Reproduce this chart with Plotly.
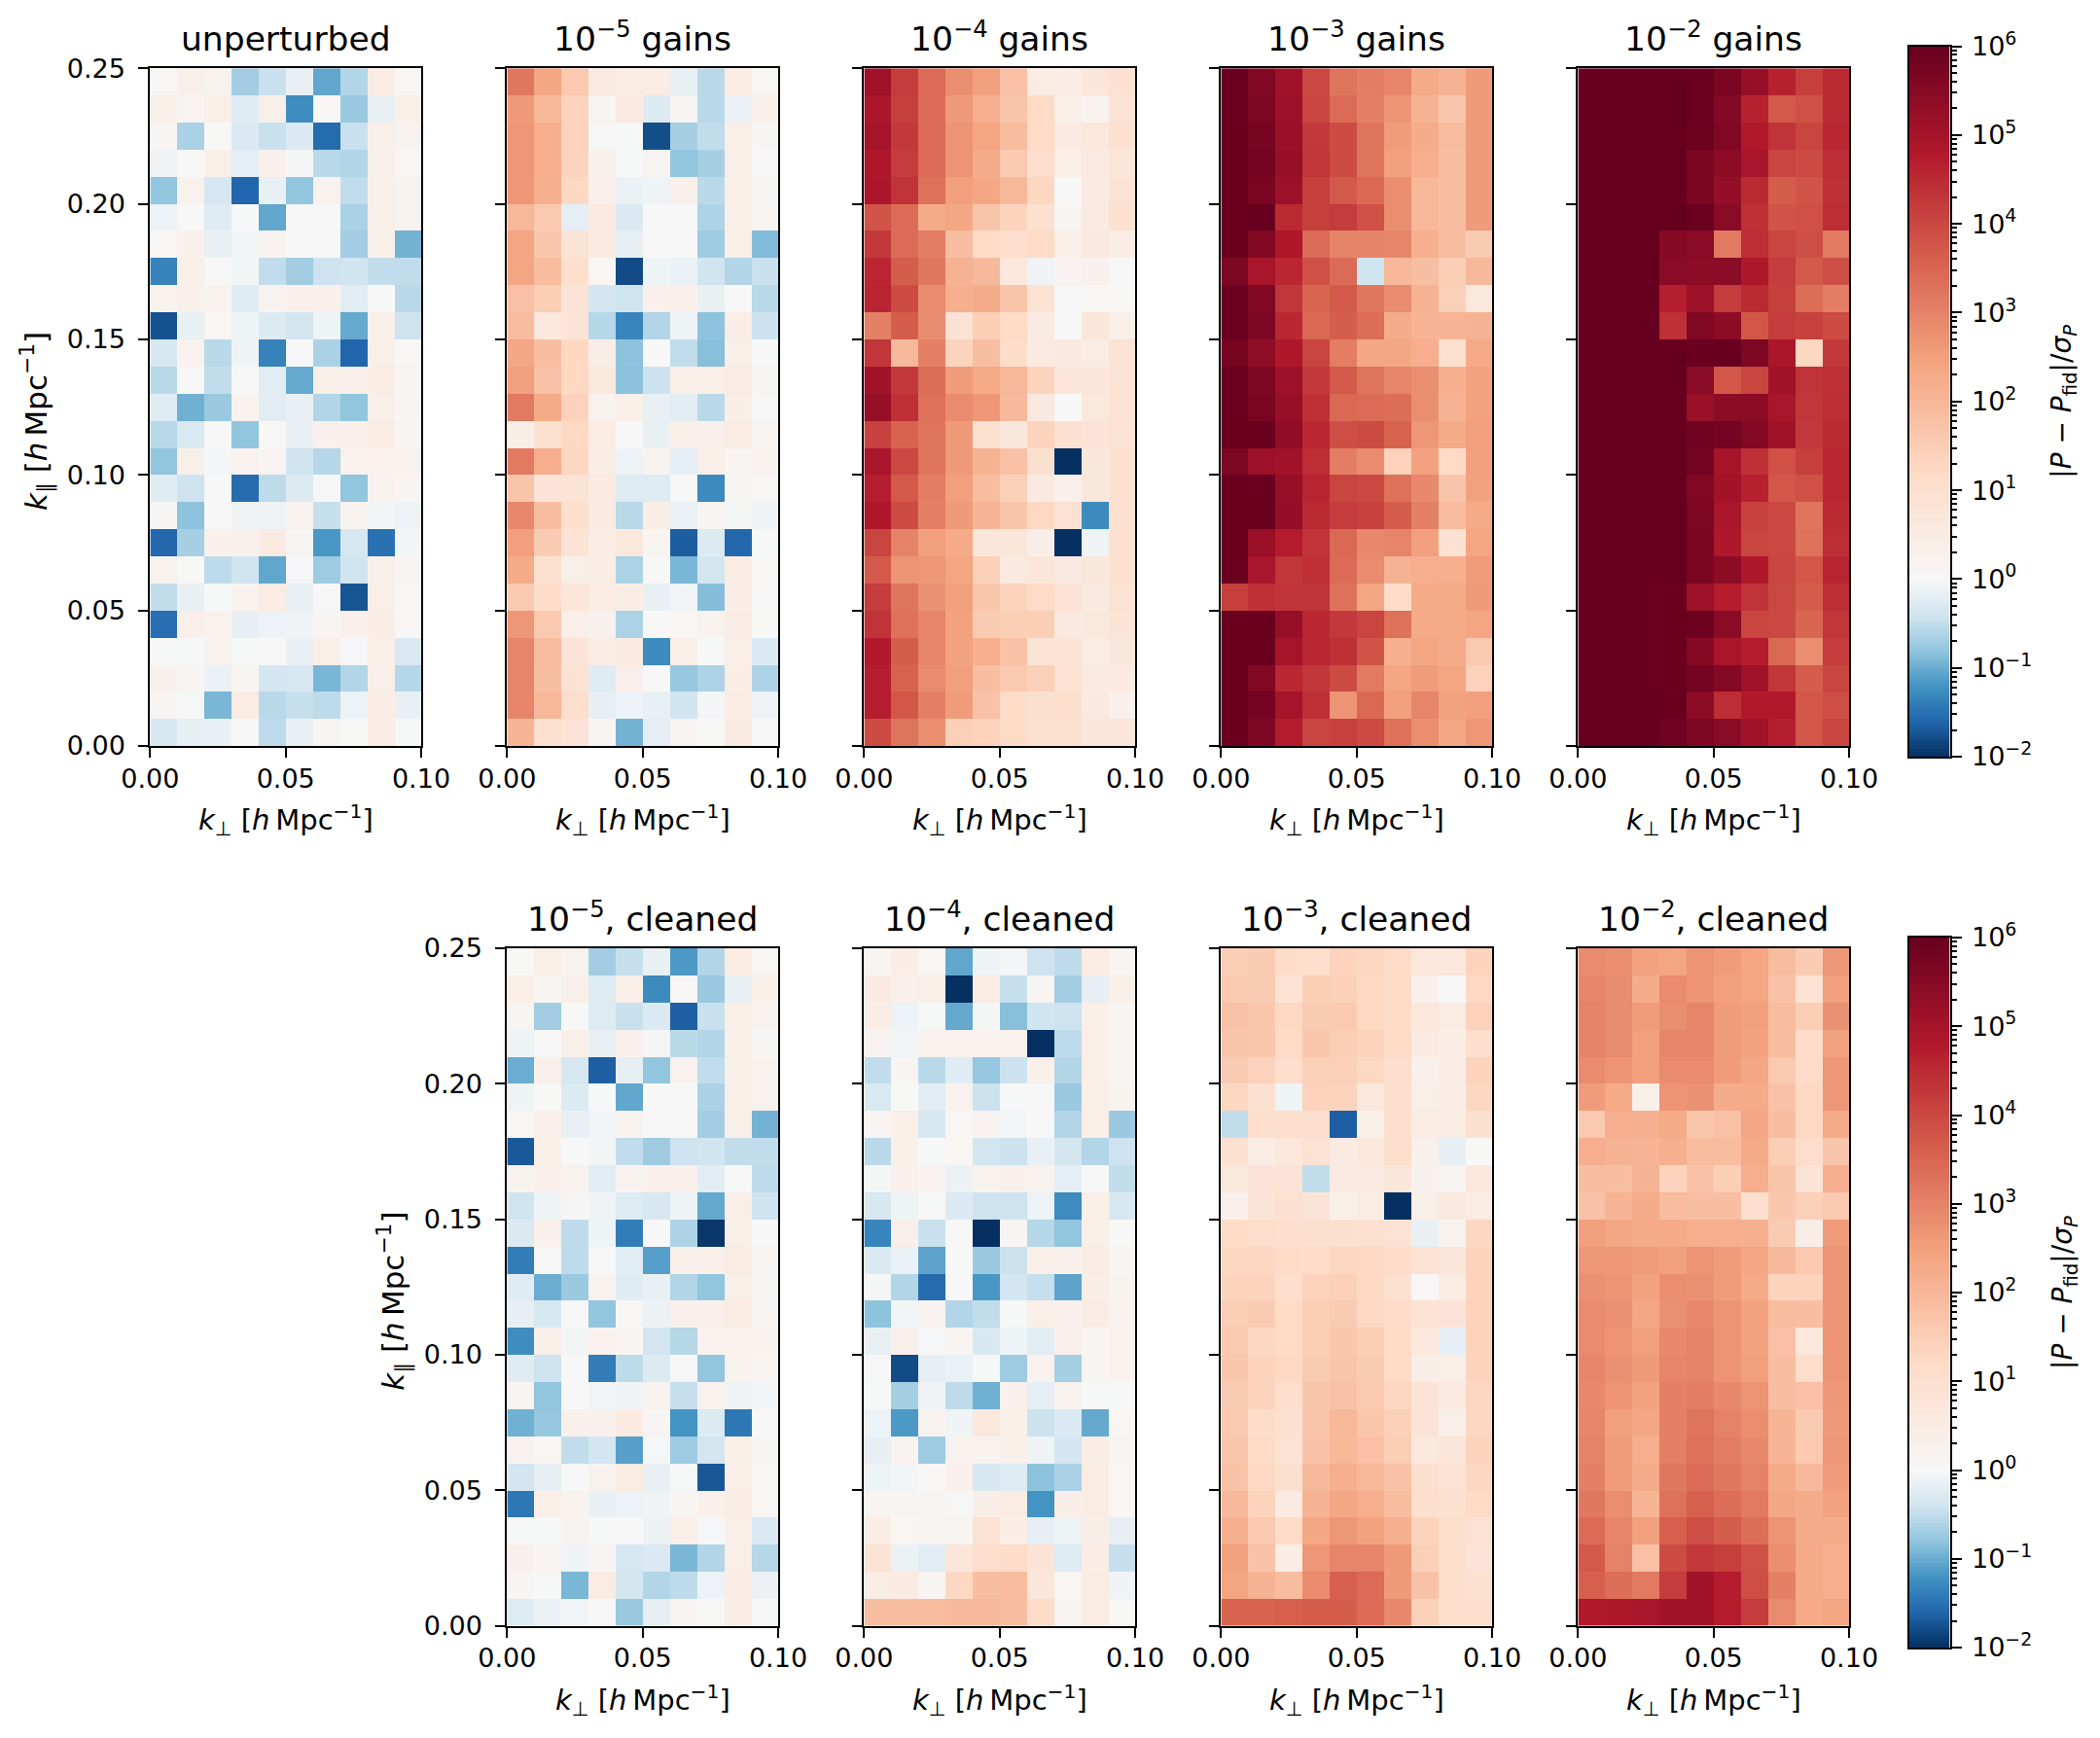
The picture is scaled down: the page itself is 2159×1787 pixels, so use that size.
import numpy as np
import plotly.graph_objects as go

# log10(|P-Pfid|/sigma); each list runs from the top row (k_par=0.25) to the bottom row, left to right
unperturbed = [
[.05,.35,.2,-.7,-.45,-.15,-1.05,-.6,.5,.05],
[.35,.15,.35,-.25,.35,-1.25,.05,-.75,-.15,.35],
[.15,-.65,.02,-.3,-.45,-.3,-1.55,-.45,.35,.2],
[-.08,0,.35,-.2,.3,-.03,-.55,-.6,.35,.1],
[-.8,.25,-.35,-1.6,-.15,-.8,.25,-.5,.35,.2],
[-.12,0,-.25,-.01,-1.05,0,0,-.65,.35,.2],
[.05,.3,-.15,-.05,.2,0,0,-.7,.35,-.95],
[-1.35,.35,0,-.05,-.5,-.7,-.42,-.4,-.5,-.5],
[.2,.3,.2,-.25,.2,.3,.3,-.22,0,-.55],
[-1.75,-.15,.1,-.1,-.28,-.38,-.1,-1.02,.38,-.42],
[-.33,.25,-.55,-.1,-1.35,0,-.65,-1.6,.35,.05],
[-.55,.02,-.5,0,-.22,-1.02,.35,.3,.5,.12],
[-.25,-.97,-.75,.2,-.22,-.15,-.6,-.8,.35,.08],
[-.55,-.32,.03,-.8,.05,-.15,.3,.3,.5,.15],
[-.8,.35,-.04,.25,.15,-.4,-.58,.25,.25,.2],
[-.25,-.42,0,-1.55,-.52,-.28,.03,-.8,.2,.15],
[.08,-.82,0,-.08,-.1,.22,-.47,.2,-.05,-.12],
[-1.58,-.67,.3,.28,.55,.08,-1.17,-.35,-1.5,-.05],
[.2,.02,-.52,-.4,-1.05,-.02,-.72,-.4,.35,.08],
[-.5,-.15,-.01,.2,.5,-.15,0,-1.73,.38,.05],
[-1.52,.38,.2,-.17,-.12,-.08,.12,.3,.45,.05],
[-.01,-.01,.2,-.01,0,-.15,.35,-.02,.38,-.3],
[.28,.13,-.13,.13,-.37,-.35,-.92,-.6,.38,-.57],
[.12,-.01,-.92,.5,-.55,-.47,-.53,-.12,.45,-.15],
[-.33,-.18,-.15,0,-.53,-.15,.15,.02,.45,-.01],
]
gains_1e5 = [
[3.2,2.4,1.6,.55,.5,.5,-.15,-.55,.5,.05],
[2.6,2.0,1.35,.08,.55,-.28,.12,-.55,-.13,.3],
[2.65,2.2,1.4,.03,-.01,-1.78,-.67,-.5,.38,.08],
[2.65,2.2,1.35,.28,-.01,.13,-.8,-.67,.38,.03],
[2.65,2.15,1.25,.3,-.13,-.1,.3,-.55,.38,.08],
[2.0,1.6,-.2,.55,-.3,0,0,-.63,.38,.13],
[2.4,1.65,.85,.55,-.17,0,0,-.72,.38,-.88],
[2.4,1.9,1.05,.1,-1.8,-.1,-.13,-.4,-.6,-.45],
[1.8,1.5,.85,-.37,-.4,.3,.3,-.15,0,-.55],
[1.9,.7,.85,-.58,-1.33,-.6,-.1,-.82,.42,-.43],
[2.35,1.85,1.25,.4,-.82,0,-.5,-.85,.38,-.01],
[2.5,1.75,1.25,.65,-.83,-.43,.38,.38,.48,.08],
[3.15,2.3,1.4,.25,.35,-.15,-.23,-.55,.4,.03],
[.4,.95,1.25,.5,0,-.15,.35,.3,.5,.12],
[3.15,2.2,1.3,.45,-.12,.2,-.2,.35,.15,.2],
[1.7,.8,.85,.55,-.27,-.27,0,-1.28,.08,.05],
[2.9,1.85,1.05,.55,-.55,.45,-.13,.12,-.03,-.08],
[2.5,1.55,.85,.42,.65,.13,-1.67,-.28,-1.58,-.01],
[2.3,.95,.35,.42,-.64,-.01,-.92,-.38,.42,.05],
[1.6,1.15,.75,.5,.42,-.15,-.07,-.86,.42,.03],
[2.65,1.6,.38,.28,-.64,0,.1,.2,.48,.02],
[2.95,1.9,.8,.42,.55,-1.28,.38,-.01,.38,-.3],
[2.95,1.85,.9,-.25,.33,0,-.77,-.62,.42,-.62],
[2.95,2.0,1.1,-.17,-.12,-.15,-.4,-.04,.5,-.12],
[2.05,.95,.8,.12,-.95,-.2,.13,.02,.52,0],
]
gains_1e4 = [
[5.1,4.2,3.4,2.8,2.5,1.8,.5,.42,.75,.95],
[4.9,4.15,3.4,2.6,2.2,1.7,1.2,.38,.2,.9],
[5.0,4.25,3.4,2.7,2.4,1.9,1.2,.55,.7,.95],
[4.85,4.2,3.4,2.7,2.25,1.6,1.1,.38,.55,.75],
[4.9,4.35,3.3,2.5,2.35,2.0,1.3,0,.55,.92],
[3.8,3.4,2.3,2.35,1.7,1.35,.95,.12,.55,.95],
[4.25,3.4,3.1,1.85,1.2,1.1,1.2,.35,.62,.48],
[4.55,3.65,3.2,2.1,1.95,.7,-.08,.18,.28,.03],
[4.6,3.95,2.85,2.15,2.25,1.7,.9,.03,.1,.05],
[3.05,3.65,2.85,.88,1.5,1.2,.55,0,.72,.38],
[4.3,1.95,3.05,1.35,1.85,1.12,.55,.62,.5,.88],
[5.05,4.25,3.35,2.55,2.3,2.0,1.35,.75,.72,.88],
[5.25,4.4,3.3,2.85,2.65,1.95,.58,0,.65,.9],
[4.1,3.55,3.25,2.6,.97,.68,1.35,.95,.8,.9],
[4.95,4.0,3.25,2.6,2.1,1.8,1.0,-2,.68,.95],
[4.7,3.7,3.1,2.5,1.85,1.45,.58,.3,.68,.95],
[4.85,3.95,3.05,2.6,2.05,1.7,1.25,.9,-1.28,.95],
[4.05,3.0,2.5,2.3,.72,.72,.4,-2,-.1,.95],
[3.7,2.7,2.65,2.4,1.45,.6,.72,.58,.68,.95],
[4.2,3.25,2.75,2.5,1.65,1.35,1.2,.88,.62,.92],
[4.35,3.3,2.95,2.45,1.55,1.5,1.5,.6,.65,.85],
[4.8,3.65,2.95,2.45,2.2,1.75,.82,.85,.5,.68],
[4.7,3.55,2.85,2.5,1.85,1.6,1.45,.9,.55,.55],
[4.7,3.75,3.05,2.55,1.75,1.2,1.0,1.05,.6,.3],
[3.95,3.25,2.8,1.45,1.4,1.2,.95,.95,.72,.72],
]
gains_1e3 = [
[5.95,5.6,5.1,4.0,3.25,3.1,2.95,2.3,2.1,2.6],
[5.95,5.65,5.15,4.05,3.4,3.05,2.7,2.1,1.65,2.6],
[5.97,5.75,5.2,4.25,3.95,3.25,2.55,2.25,1.9,2.6],
[5.97,5.8,5.25,4.3,3.95,3.25,2.5,2.2,1.85,2.6],
[5.97,5.7,5.15,4.15,3.7,3.45,2.8,2.0,1.85,2.6],
[5.97,6.0,4.5,4.15,4.2,3.85,2.8,2.0,1.85,2.6],
[5.97,5.6,4.85,3.4,3.0,3.0,2.95,2.15,1.85,1.55],
[5.65,4.95,4.55,3.85,3.4,-.4,2.0,1.85,1.5,1.95],
[5.93,5.6,4.3,3.5,3.7,3.2,2.85,2.1,1.45,.65],
[5.95,5.65,4.55,3.45,3.65,3.35,2.25,2.05,2.05,2.1],
[5.75,5.35,4.85,4.05,3.1,2.35,2.35,2.2,.97,2.3],
[5.93,5.65,5.15,4.25,3.7,3.25,2.95,2.8,2.15,2.45],
[5.95,5.7,5.25,4.4,3.45,3.4,3.35,2.8,2.1,2.45],
[5.97,5.97,5.35,4.55,3.9,3.95,3.55,2.65,2.3,2.5],
[5.65,5.15,5.05,4.45,3.1,2.85,1.4,2.45,1.2,2.5],
[5.97,5.93,5.25,4.6,4.05,4.0,3.3,2.9,1.7,2.45],
[5.97,5.97,5.3,4.5,4.2,4.1,3.65,3.05,1.9,2.3],
[5.97,5.2,4.75,4.35,3.45,2.9,2.95,2.5,.92,2.4],
[5.95,4.95,4.3,4.4,3.4,2.85,2.1,2.2,2.15,2.55],
[4.15,4.4,4.35,4.35,3.3,2.4,1.12,2.3,2.3,2.6],
[5.97,5.97,5.25,4.55,4.25,4.05,3.3,2.3,2.3,2.4],
[5.97,5.97,5.0,4.55,4.4,3.8,2.15,2.4,2.25,1.6],
[5.97,5.6,4.55,4.3,3.95,3.15,2.4,2.55,2.4,1.4],
[5.97,5.8,5.0,4.4,2.7,3.45,2.5,2.95,2.45,2.5],
[5.97,5.65,4.75,4.05,4.1,3.95,3.3,2.8,2.35,2.65],
]
gains_1e2 = [
[6,6,6,6,5.95,5.7,5.25,4.65,4.15,4.5],
[6,6,6,6,5.95,5.55,4.65,3.7,3.85,4.5],
[6,6,6,6,5.9,5.6,4.8,4.35,4.05,4.55],
[6,6,6,6,5.7,5.4,4.95,4.05,3.95,4.45],
[6,6,6,6,5.7,5.3,4.5,3.65,3.8,4.4],
[6,6,6,6,5.95,5.45,4.4,3.8,3.85,4.45],
[6,6,6,5.5,5.45,3.15,4.45,4.05,3.9,3.15],
[6,6,6,5.45,5.4,5.45,4.85,4.2,3.7,3.9],
[6,6,6,4.7,5.15,4.2,4.5,4.15,3.35,3.1],
[6,6,6,4.4,5.6,5.4,3.75,4.2,4.1,3.95],
[6,6,6,6,5.97,6,5.65,4.9,1.3,4.25],
[6,6,6,6,5.45,3.75,4.05,5.1,4.35,4.4],
[6,6,6,6,5.2,5.4,5.4,4.95,4.3,4.45],
[6,6,6,6,5.85,5.8,5.55,5.1,4.25,4.5],
[6,6,6,6,5.8,5.0,4.4,3.85,4.15,4.55],
[6,6,6,6,5.6,5.05,4.65,3.75,3.85,4.55],
[6,6,6,6,5.65,4.95,4.1,4.0,3.25,4.5],
[6,6,6,6,5.7,4.85,4.05,4.0,3.3,4.45],
[6,6,6,6,5.7,5.4,4.85,4.05,3.75,4.6],
[6,6,6,5.97,5.15,4.75,4.35,4.0,3.65,4.45],
[6,6,6,5.97,5.9,5.45,4.05,4.0,3.5,4.3],
[6,6,6,5.97,5.5,4.95,4.75,3.45,2.8,4.2],
[6,6,6,5.97,5.8,5.55,5.1,4.3,3.65,4.05],
[6,6,6,6,5.4,4.45,4.8,4.8,3.75,3.9],
[6,6,6,5.85,5.65,5.45,5.1,4.7,3.75,4.05],
]
cleaned_1e5 = [
[.02,.35,.2,-.7,-.47,-.15,-1.15,-.6,.5,.05],
[.38,.12,.35,-.27,.35,-1.28,.05,-.75,-.15,.35],
[.15,-.7,.02,-.27,-.45,-.3,-1.65,-.45,.35,.2],
[-.1,.03,.35,-.15,.3,-.03,-.55,-.6,.35,.08],
[-1.0,.33,-.35,-1.65,-.17,-.8,.25,-.5,.35,.2],
[-.1,.02,-.28,-.01,-1.05,0,0,-.65,.35,.2],
[.05,.3,-.15,-.05,.2,0,0,-.7,.35,-.95],
[-1.7,.35,0,-.05,-.5,-.72,-.42,-.4,-.5,-.5],
[.2,.3,.2,-.22,.2,.3,.3,-.22,0,-.52],
[-.4,-.1,.08,-.08,-.27,-.33,-.1,-1.03,.38,-.42],
[-.3,.3,-.52,-.1,-1.4,0,-.62,-1.95,.35,0],
[-1.4,.03,-.52,0,-.22,-1.1,.35,.3,.5,.12],
[-.25,-1.0,-.75,.2,-.25,-.15,-.6,-.8,.35,.08],
[-.17,-.33,.03,-.8,.05,-.13,.3,.3,.5,.15],
[-1.25,.35,-.05,.25,.13,-.38,-.58,.25,.25,.2],
[-.25,-.42,0,-1.4,-.52,-.28,.03,-.8,.2,.15],
[.15,-.8,0,-.07,-.08,.22,-.47,.2,-.08,-.07],
[-.97,-.77,.3,.28,.55,.08,-1.2,-.28,-1.45,0],
[.2,.1,-.5,-.37,-1.1,-.02,-.72,-.38,.35,.08],
[-.37,-.17,-.01,.2,.5,-.15,-.01,-1.72,.38,.05],
[-1.45,.38,.2,-.15,-.12,-.08,.15,.3,.45,.05],
[-.01,-.01,.2,-.01,0,-.13,.38,-.02,.38,-.3],
[.28,.13,-.1,.13,-.35,-.3,-.92,-.6,.38,-.58],
[.12,-.01,-.92,.5,-.38,-.6,-.53,-.12,.45,-.13],
[-.27,-.13,-.07,0,-.75,-.17,.15,.02,.45,-.01],
]
cleaned_1e4 = [
[.15,.42,.05,-1.05,-.1,-.04,-.42,-.52,.5,.12],
[.55,.3,.35,-2,.5,-.47,.15,-.7,-.17,.35],
[.45,-.12,-.01,-1.03,-.03,-.85,-.4,-.42,.38,.15],
[.18,-.07,.25,.25,.2,.2,-2,-.52,.38,.12],
[-.5,.15,-.55,-.25,-.78,-.43,.32,-.6,.38,.15],
[-.32,.02,-.22,.2,-.43,-.01,.03,-.75,.38,.2],
[.15,.38,-.33,.05,.18,-.04,0,-.6,.38,-.75],
[-.55,.35,-.01,.1,-.38,-.43,-.15,-.38,-.6,-.42],
[-.03,.3,.18,-.13,.2,.3,.2,-.2,0,-.5],
[-.33,-.1,-.01,-.3,-.42,-.42,-.12,-1.27,.38,-.33],
[-1.33,.33,-.45,0,-2,.12,-.58,-.8,.38,.02],
[-.3,-.14,-1.07,0,-.75,-.43,.38,.3,.48,.15],
[-.04,-.6,-1.55,0,-1.17,-.37,-.47,-1.07,.4,.2],
[-.82,-.05,.18,-.6,-.5,-.01,.38,.3,.48,.2],
[-.15,.33,-.02,.15,-.33,-.1,-.22,.33,.15,.2],
[.03,-1.8,-.17,-.14,-.01,-.73,.25,-.68,.15,.25],
[-.01,-.68,-.08,-.52,-.97,.3,-.2,.2,-.01,0],
[-.12,-1.15,.2,-.1,.65,.35,-.43,-.3,-1.03,.1],
[-.17,.18,-.72,.2,.2,.32,-.1,-.37,.45,.15],
[-.1,-.05,.05,.3,-.33,-.25,-.82,-.65,.5,.1],
[.15,.15,.12,.03,.4,.5,-1.2,.4,.5,.1],
[.45,.1,.15,.12,.9,.42,-.17,-.1,.4,-.17],
[.85,-.13,-.22,.75,1.1,1.15,.85,-.27,.45,-.47],
[.48,.55,.12,1.25,1.85,1.9,.72,.1,.5,-.1],
[1.85,1.85,1.9,1.95,1.95,1.85,1.15,.15,.5,.02],
]
cleaned_1e3 = [
[1.5,1.55,1.15,1.1,1.4,1.3,1.2,.7,.7,1.35],
[1.6,1.55,.9,1.5,1.45,1.25,1.2,.3,.03,1.25],
[1.75,1.65,1.25,1.55,1.6,1.25,1.2,.7,.5,1.4],
[1.7,1.65,1.2,1.65,1.5,1.4,1.2,.55,.45,1.05],
[1.55,1.4,1.1,1.45,1.45,1.25,1.1,.3,.45,1.35],
[1.3,.95,-.1,1.4,1.35,.7,1.05,.35,.45,1.3],
[-.5,1.05,1.05,1.05,-1.65,.35,1.05,.5,.45,1.0],
[.95,.5,.7,.9,.55,.7,1.05,.3,-.17,.02],
[.65,.8,.8,-.5,.55,.55,.72,.28,.15,.7],
[.3,.8,.95,.8,.35,.5,-2,.35,.6,.5],
[1.2,1.1,1.05,1.0,1.0,.95,.9,-.15,.2,1.3],
[1.3,1.3,1.2,1.15,1.3,1.25,1.15,.9,.75,1.35],
[1.35,1.35,1.1,1.4,1.45,1.25,.95,.05,.5,1.35],
[1.5,1.55,1.2,1.5,1.55,1.25,1.15,.9,.8,1.35],
[1.6,1.3,1.2,1.5,1.65,1.5,1.2,.7,-.2,1.35],
[1.65,1.35,1.25,1.55,1.7,1.55,1.2,.4,.35,1.35],
[1.55,1.35,1.1,1.7,1.8,1.6,1.3,.8,.55,1.3],
[1.6,1.15,.95,1.7,2.0,1.65,1.45,.8,.35,1.3],
[1.65,1.2,.9,1.75,2.0,1.8,1.5,.65,.75,1.35],
[1.75,1.25,1.0,1.95,2.2,2.0,1.75,1.0,.9,1.3],
[1.95,1.35,.55,2.1,2.35,2.2,1.9,1.05,.95,1.2],
[2.15,1.6,1.15,2.35,2.65,2.45,2.15,1.35,1.05,.9],
[2.45,1.75,.45,2.65,2.95,2.95,2.6,1.45,1.05,.8],
[2.4,2.1,1.9,2.85,3.6,3.4,2.6,1.75,1.05,.95],
[3.55,3.55,3.6,3.65,3.65,3.4,2.9,1.45,1.05,1.05],
]
cleaned_1e2 = [
[2.85,2.8,2.45,2.4,2.7,2.55,2.4,1.9,1.55,2.65],
[2.95,2.85,2.25,2.85,2.7,2.5,2.4,1.75,.9,2.5],
[3.0,2.85,2.55,2.8,2.95,2.55,2.5,1.9,1.5,2.75],
[3.0,2.85,2.5,2.95,2.95,2.55,2.45,1.9,1.15,2.45],
[2.85,2.7,2.5,2.85,2.85,2.55,2.35,1.6,1.15,2.65],
[2.55,2.3,.35,2.7,2.75,2.25,2.3,1.75,1.25,2.65],
[1.6,2.2,2.15,2.3,1.65,1.8,2.35,1.85,1.25,2.3],
[2.2,2.1,2.05,2.15,1.9,1.9,2.3,1.5,1.1,1.7],
[1.85,1.85,2.1,1.35,1.75,1.5,2.2,1.7,.85,2.15],
[1.75,2.05,2.25,1.9,1.85,1.85,1.05,1.65,1.45,1.6],
[2.5,2.35,2.3,2.3,2.2,2.2,2.15,1.55,.4,2.55],
[2.65,2.65,2.55,2.5,2.7,2.55,2.35,1.95,1.6,2.7],
[2.75,2.7,2.45,2.8,2.75,2.55,2.3,1.35,1.35,2.7],
[2.85,2.75,2.35,2.75,2.9,2.7,2.45,1.9,1.85,2.7],
[2.85,2.7,2.5,2.9,3.0,2.7,2.45,1.8,.7,2.7],
[2.95,2.75,2.6,2.95,3.0,2.7,2.5,1.85,1.1,2.7],
[2.9,2.7,2.45,3.05,3.1,2.9,2.7,1.85,1.8,2.65],
[2.95,2.5,2.35,3.05,3.25,3.0,2.8,2.05,1.55,2.6],
[3.0,2.55,2.2,3.05,3.3,3.1,2.9,2.05,1.6,2.65],
[3.05,2.55,2.25,3.2,3.4,3.2,3.0,2.3,1.95,2.55],
[3.2,2.8,2.05,3.3,3.6,3.35,3.15,2.35,2.25,2.45],
[3.4,2.95,2.5,3.6,3.9,3.65,3.35,2.7,2.25,2.25],
[3.7,3.0,1.8,3.95,4.25,4.15,3.85,2.8,2.3,2.2],
[3.6,3.35,3.15,4.2,5.05,4.75,3.9,3.05,2.3,2.2],
[4.8,4.85,4.95,5.05,5.05,4.75,4.2,2.85,2.3,2.4],
]

k_perp_edges = [0, .01, .02, .03, .04, .05, .06, .07, .08, .09, .10]
k_par_edges = [0, .01, .02, .03, .04, .05, .06, .07, .08, .09, .10, .11, .12, .13, .14, .15, .16, .17, .18,
               .19, .20, .21, .22, .23, .24, .25]
x_ticks = [0, .05, .10]
y_ticks = [0, .05, .10, .15, .20, .25]
cb_ticks = [-2, -1, 0, 1, 2, 3, 4, 5, 6]
cb_ticktext = ["10<sup>−2</sup>", "10<sup>−1</sup>", "10<sup>0</sup>", "10<sup>1</sup>", "10<sup>2</sup>",
               "10<sup>3</sup>", "10<sup>4</sup>", "10<sup>5</sup>", "10<sup>6</sup>"]

# matplotlib RdBu_r stretched so that 10^0 is the white centre of the 10^-2..10^6 log range
anchors = ["#053061", "#2166ac", "#4393c3", "#92c5de", "#d1e5f0", "#f7f7f7",
           "#fddbc7", "#f4a582", "#d6604d", "#b2182b", "#67001f"]
positions = [0, .05, .10, .15, .20, .25, .40, .55, .70, .85, 1]
cscale = [[p, c] for p, c in zip(positions, anchors)]

W, H = 2159, 1787
LEFTS = [154.4, 521.4, 888.4, 1255.4, 1622.4]
PW = 278.6
TOP_ROW = (70.2, 767.0)
BOT_ROW = (975.0, 1671.5)
CB_X = (1962.5, 2004.5)
CB_TOP = (47.5, 778)
CB_BOT = (964, 1694)
FONT = "DejaVu Sans"
TICK = 27
LW = 2.2


def xdom(a, b):
    return [a / W, b / W]


def ydom(top, bottom):
    return [1 - bottom / H, 1 - top / H]


panels = [
    (unperturbed, "unperturbed", 0, TOP_ROW, True),
    (gains_1e5, "10<sup>−5</sup> gains", 1, TOP_ROW, False),
    (gains_1e4, "10<sup>−4</sup> gains", 2, TOP_ROW, False),
    (gains_1e3, "10<sup>−3</sup> gains", 3, TOP_ROW, False),
    (gains_1e2, "10<sup>−2</sup> gains", 4, TOP_ROW, False),
    (cleaned_1e5, "10<sup>−5</sup>, cleaned", 1, BOT_ROW, True),
    (cleaned_1e4, "10<sup>−4</sup>, cleaned", 2, BOT_ROW, False),
    (cleaned_1e3, "10<sup>−3</sup>, cleaned", 3, BOT_ROW, False),
    (cleaned_1e2, "10<sup>−2</sup>, cleaned", 4, BOT_ROW, False),
]

XLAB = "<i>k</i><sub>⊥</sub>\u00a0[<i>h</i>\u2009Mpc<sup>−1</sup>]"
YLAB = "<i>k</i><sub>∥</sub>\u00a0[<i>h</i>\u2009Mpc<sup>−1</sup>]"
CBLAB = "|<i>P</i> − <i>P</i><sub>fid</sub>|/<i>σ</i><sub><i>P</i></sub>"
XLAB_FONT = dict(family=FONT, size=29, color="black")
YLAB_FONT = dict(family=FONT, size=31, color="black")

fig = go.Figure()
layout = {}
annotations = []
base_axis = dict(showgrid=False, zeroline=False, showline=True, linecolor="black", linewidth=LW, mirror=True,
                 ticks="outside", ticklen=10, tickwidth=LW, tickcolor="black", layer="above traces",
                 automargin=False, tickfont=dict(family=FONT, size=TICK, color="black"))


def pixel_note(text, px, py, font, angle=0):
    return dict(text=text, xref="paper", yref="paper", x=px / W, y=1 - py / H, xanchor="center", yanchor="middle",
                showarrow=False, textangle=angle, font=font)


for i, (grid, title, col, row, ylabelled) in enumerate(panels, start=1):
    s = "" if i == 1 else str(i)
    z = np.array(grid)[::-1]
    fig.add_trace(go.Heatmap(x=k_perp_edges, y=k_par_edges, z=z, zmin=-2, zmax=6, colorscale=cscale,
                             showscale=False, xaxis=f"x{s}", yaxis=f"y{s}"))
    layout[f"xaxis{s}"] = dict(base_axis, domain=xdom(LEFTS[col], LEFTS[col] + PW), anchor=f"y{s}",
                               range=[0, .10], tickvals=x_ticks, tickformat=".2f", ticklabelstandoff=-2)
    layout[f"yaxis{s}"] = dict(base_axis, domain=ydom(*row), anchor=f"x{s}", range=[0, .25], tickvals=y_ticks,
                               tickformat=".2f", showticklabels=ylabelled, ticklabelstandoff=8)
    annotations.append(dict(text=title, xref=f"x{s} domain", yref=f"y{s} domain", x=.5, y=1, yshift=8,
                            xanchor="center", yanchor="bottom", showarrow=False,
                            font=dict(family=FONT, size=34.5, color="black")))
    annotations.append(pixel_note(XLAB, LEFTS[col] + PW / 2, row[1] + 76, XLAB_FONT))
    if ylabelled:
        annotations.append(pixel_note(YLAB, LEFTS[col] - 117, (row[0] + row[1]) / 2 + 14, YLAB_FONT, -90))

# colour bars: a one-column heatmap on its own axes, so the log minor ticks can be drawn
levels = np.linspace(-2, 6, 257)
level_z = ((levels[:-1] + levels[1:]) / 2).reshape(-1, 1)
minor_vals = [d + np.log10(m) for d in range(-2, 6) for m in range(2, 10)]
for j, row in zip((10, 11), (CB_TOP, CB_BOT)):
    fig.add_trace(go.Heatmap(x=[0, 1], y=levels, z=level_z, zmin=-2, zmax=6, colorscale=cscale, showscale=False,
                             xaxis=f"x{j}", yaxis=f"y{j}", hoverinfo="skip"))
    layout[f"xaxis{j}"] = dict(domain=xdom(*CB_X), anchor=f"y{j}", range=[0, 1], showticklabels=False, ticks="",
                               showgrid=False, zeroline=False, showline=True, linecolor="black", linewidth=LW,
                               mirror=True, layer="above traces", automargin=False)
    layout[f"yaxis{j}"] = dict(base_axis, domain=ydom(*row), anchor=f"x{j}", side="right", range=[-2, 6],
                               tickvals=cb_ticks, ticktext=cb_ticktext, ticklabelstandoff=5,
                               minor=dict(tickvals=minor_vals, ticks="outside", ticklen=5.5, tickwidth=1.6,
                                          tickcolor="black", showgrid=False))
    annotations.append(pixel_note(CBLAB, 2122, (row[0] + row[1]) / 2, dict(family=FONT, size=28, color="black"), -90))

fig.update_layout(width=W, height=H, autosize=False, margin=dict(l=0, r=0, t=0, b=0), paper_bgcolor="white",
                  plot_bgcolor="white", showlegend=False, annotations=annotations,
                  font=dict(family=FONT, color="black"), **layout)
fig.write_html("out.html", config=dict(displayModeBar=False), post_script="document.body.style.margin='0';")
